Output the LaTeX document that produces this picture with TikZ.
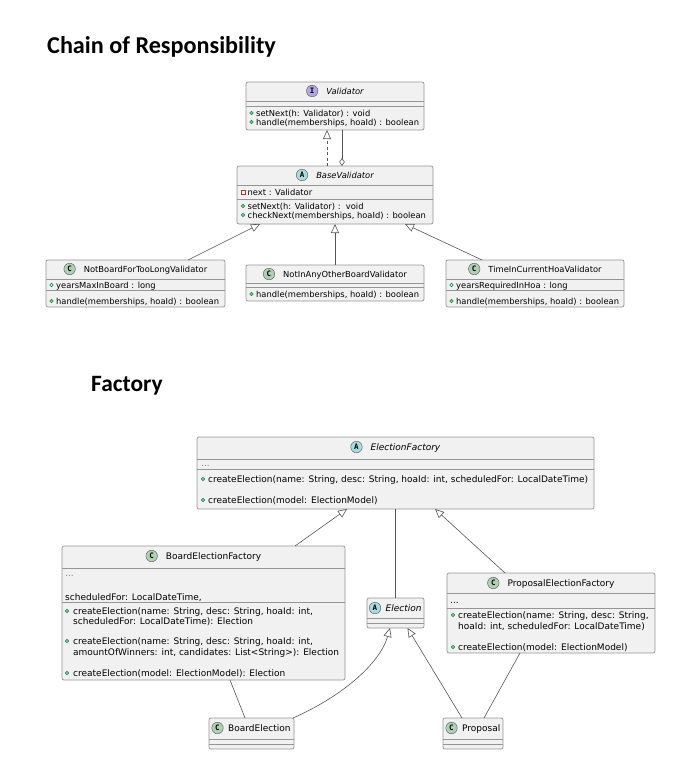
\documentclass[tikz,border=0pt]{standalone}
\usepackage{fontspec}
\setmainfont{DejaVu Sans}
\newfontfamily\titlefont{Carlito}
\newfontfamily\iconfont{DejaVu Sans Mono}
\usetikzlibrary{arrows.meta}
\definecolor{boxfill}{HTML}{F1F1F1}
\definecolor{boxline}{HTML}{959595}
\definecolor{conn}{HTML}{555555}
\definecolor{icC}{HTML}{ADD1B2}
\definecolor{icA}{HTML}{A9DCDF}
\definecolor{icI}{HTML}{B4A7E5}
\definecolor{pubfill}{HTML}{84BE84}
\definecolor{publine}{HTML}{038048}
\definecolor{privline}{HTML}{C82930}
\newcommand\umlbox[5]{\node[classbox, minimum width={#4-#2}, minimum height={#5-#3}] (#1) at (#2,#3) {};}
\newcommand\sepl[3]{\draw[sepline] (#1,#3) -- (#2,#3);}
\newcommand\pubdot[2]{\filldraw[fill=pubfill, draw=publine, line width=0.4pt] (#1,#2) circle (1.9pt);}
\newcommand\pubring[2]{\draw[publine, line width=0.5pt] (#1,#2) circle (1.8pt);}
\newcommand\privsq[2]{\draw[privline, line width=0.5pt] ({#1-1.8},{#2-1.8}) rectangle ({#1+1.8},{#2+1.8});}
\newcommand\mtext[4]{\node[mtxt] (#1) at (#2,{#3+3}) {#4};}
\newcommand\headc[6]{\node[htxt] (#1) at ({#2+10},#3) {#6}; \node[icon, fill=#5] (#1i) at ([xshift=-14pt]#1.west) {#4};}
\newcommand\headl[6]{\node[icon, fill=#5] (#1i) at (#2,#3) {#4}; \node[htxt, anchor=west] (#1) at ({#2+10.5},#3) {#6};}
\tikzset{
  classbox/.style={draw=boxline, fill=boxfill, line width=0.7pt, rounded corners=2pt, inner sep=0pt, outer sep=0pt, anchor=north west},
  sepline/.style={draw=boxline, line width=0.7pt},
  mtxt/.style={inner sep=0pt, anchor=base west, mfont},
  htxt/.style={inner sep=0pt, text height=6pt, text depth=0pt, mfont},
  icon/.style={circle, draw=conn, line width=0.4pt, inner sep=0pt, minimum size=11.5pt, font=\iconfont\bfseries\fontsize{7.5}{8}\selectfont},
  plain/.style={draw=conn, line width=0.6pt},
  inh/.style={plain, -{Triangle[open, length=9pt, width=8pt]}},
  real/.style={inh, dash pattern=on 3pt off 2.5pt},
  agg/.style={plain, -{Diamond[open, length=8pt, width=5.5pt]}},
  ttl/.style={inner sep=0pt, anchor=base west, font=\titlefont\bfseries\fontsize{#1}{27}\selectfont}
}
\begin{document}
\begin{tikzpicture}[x=1pt, y=-1pt]
\fill[white] (0,0) rectangle (676,774);
\useasboundingbox (0,0) rectangle (676,774);
\node[ttl=24.2] (t1) at (47,53) {Chain of Responsibility};
\node[ttl=23.4] (t2) at (91,391) {Factory};
% ---------------- Chain of Responsibility
\begin{scope}[mfont/.style={font=\fontsize{8.35}{10}\selectfont}]
\umlbox{v}{246}{82}{424}{130}
\sepl{246}{424}{101}\sepl{246}{424}{106}
\headc{vt}{335}{91}{I}{icI}{\itshape Validator}
\pubdot{251.5}{113}\mtext{v1}{256}{113}{setNext(h: Validator) : void}
\pubdot{251.5}{122}\mtext{v2}{256}{122}{handle(memberships, hoaId) : boolean}

\umlbox{bv}{237}{166}{433}{224}
\sepl{237}{433}{185}\sepl{237}{433}{199}
\headc{bvt}{335}{175}{A}{icA}{\itshape BaseValidator}
\privsq{243}{192}\mtext{bv1}{247.5}{192}{next : Validator}
\pubdot{243}{206}\mtext{bv2}{247.5}{206}{setNext(h: Validator) :\ \ void}
\pubdot{243}{215}\mtext{bv3}{247.5}{215}{checkNext(memberships, hoaId) : boolean}

\umlbox{nb}{46}{260}{225}{307}
\sepl{46}{225}{279}\sepl{46}{225}{290}
\headc{nbt}{135.5}{269}{C}{icC}{NotBoardForTooLongValidator}
\pubring{51.5}{285}\mtext{nb1}{56}{285}{yearsMaxInBoard : long}
\pubdot{51.5}{301}\mtext{nb2}{56}{301}{handle(memberships, hoaId) : boolean}

\umlbox{na}{246}{265}{424}{301}
\sepl{246}{424}{283}\sepl{246}{424}{287}
\headc{nat}{335}{274}{C}{icC}{NotInAnyOtherBoardValidator}
\pubdot{251.5}{294}\mtext{na1}{256}{294}{handle(memberships, hoaId) : boolean}

\umlbox{tc}{446}{260}{624}{307}
\sepl{446}{624}{279}\sepl{446}{624}{290}
\headc{tct}{535}{269}{C}{icC}{TimeInCurrentHoaValidator}
\pubring{451.5}{285}\mtext{tc1}{456}{285}{yearsRequiredInHoa : long}
\pubdot{451.5}{301}\mtext{tc2}{456}{301}{handle(memberships, hoaId) : boolean}

\draw[real] ([xshift=-8pt]bv.north) -- ([xshift=-8pt]v.south);
\draw[agg] ([xshift=7pt]v.south) -- ([xshift=7pt]bv.north);
\draw[inh] ([xshift=52.5pt]nb.north) -- ([xshift=-75pt]bv.south);
\draw[inh] (na.north) -- (bv.south);
\draw[inh] ([xshift=-53pt]tc.north) -- ([xshift=70pt]bv.south);
\end{scope}
% ---------------- Factory
\begin{scope}[mfont/.style={font=\fontsize{9.0}{10.5}\selectfont}]
\umlbox{ef}{197}{437}{594}{509}
\sepl{197}{594}{459}\sepl{197}{594}{469}
\headc{eft}{395.5}{447}{A}{icA}{\itshape ElectionFactory}
\mtext{ef0}{201}{463}{\textcolor{gray}{...}}
\pubdot{203}{479}\mtext{ef1}{208}{479}{createElection(name: String, desc: String, hoaId: int, scheduledFor: LocalDateTime)}
\pubdot{203}{500}\mtext{ef2}{208}{500}{createElection(model: ElectionModel)}

\umlbox{bef}{62}{546}{345}{680}
\sepl{62}{345}{568}\sepl{62}{345}{602}
\headc{beft}{203.5}{556}{C}{icC}{BoardElectionFactory}
\mtext{bef0}{65}{573}{\textcolor{gray}{...}}
\mtext{bef1}{65}{597}{scheduledFor: LocalDateTime,}
\pubdot{67}{611}\mtext{bef2}{73}{611}{createElection(name: String, desc: String, hoaId: int,}
\mtext{bef3}{73}{621}{scheduledFor: LocalDateTime): Election}
\pubdot{67}{641}\mtext{bef4}{73}{641}{createElection(name: String, desc: String, hoaId: int,}
\mtext{bef5}{73}{652}{amountOfWinners: int, candidates: List<String>): Election}
\pubdot{67}{673}\mtext{bef6}{73}{673}{createElection(model: ElectionModel): Election}

\umlbox{pef}{447}{573}{655}{653}
\sepl{447}{655}{593}\sepl{447}{655}{608}
\headc{peft}{551}{583}{C}{icC}{ProposalElectionFactory}
\mtext{pef0}{450}{600}{...}
\pubdot{453}{615}\mtext{pef1}{458}{615}{createElection(name: String, desc: String,}
\mtext{pef2}{458}{626}{hoaId: int, scheduledFor: LocalDateTime)}
\pubdot{453}{647}\mtext{pef3}{458}{647}{createElection(model: ElectionModel)}

\umlbox{el}{367}{598}{424}{628}
\sepl{367}{424}{618}\sepl{367}{424}{623}
\headl{elt}{375}{608}{A}{icA}{\itshape Election}

\umlbox{be}{209}{718}{294}{749}
\sepl{209}{294}{739}\sepl{209}{294}{744}
\headl{bet}{217.5}{728}{C}{icC}{BoardElection}

\umlbox{pr}{443}{718}{503}{749}
\sepl{443}{503}{739}\sepl{443}{503}{744}
\headl{prt}{451.5}{728}{C}{icC}{Proposal}

\draw[inh] ([xshift=91.5pt]bef.north) -- ([xshift=-48.5pt]ef.south);
\draw[inh] ([xshift=-46pt]pef.north) -- ([xshift=39.5pt]ef.south);
\draw[plain] (ef.south) -- (el.north);
\draw[plain] ([xshift=26.5pt]bef.south) -- ([xshift=-6.5pt]be.north);
\draw[inh] ([xshift=41.5pt]be.north) .. controls +(50,-22) and +(-10,35) .. ([xshift=-5.5pt]el.south);
\draw[inh] ([xshift=-11pt]pr.north) -- ([xshift=12pt]el.south);
\draw[plain] ([xshift=-31pt]pef.south) -- ([xshift=11pt]pr.north);
\end{scope}
\end{tikzpicture}
\end{document}
